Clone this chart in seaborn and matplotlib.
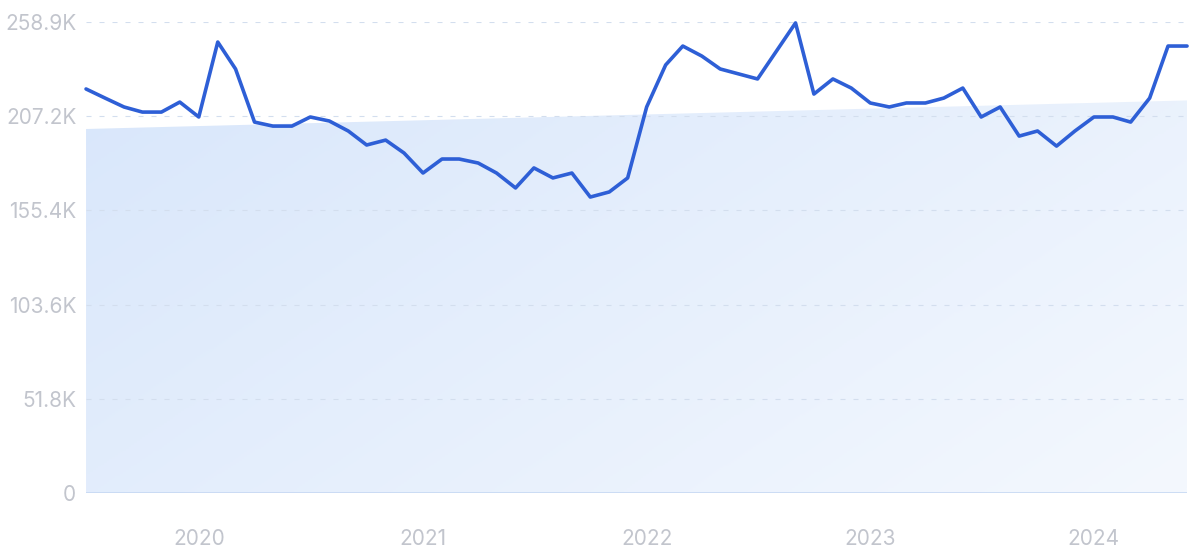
import matplotlib
matplotlib.use("Agg")
import matplotlib.pyplot as plt
import matplotlib.dates as mdates
from matplotlib.colors import LinearSegmentedColormap
import seaborn as sns
import pandas as pd
import numpy as np

# données (en milliers)
months = pd.date_range("2019-07-01", periods=60, freq="MS")
visits_k = [222.1, 217.1, 212.2, 209.4, 209.4, 214.9, 206.7, 247.9, 233.1, 203.9,
            201.7, 201.7, 206.7, 204.5, 199.0, 191.3, 194.0, 186.9, 175.9, 183.6,
            183.6, 181.4, 175.9, 167.7, 178.7, 173.2, 175.9, 162.7, 165.5, 173.2,
            212.2, 235.3, 245.7, 240.2, 233.1, 230.3, 227.6, 243.0, 258.4, 219.3,
            227.6, 222.6, 214.4, 212.2, 214.4, 214.4, 217.1, 222.6, 206.7, 212.2,
            196.2, 199.0, 190.7, 199.0, 206.7, 206.7, 203.9, 217.1, 245.7, 245.7]
trend_k = [200.1, 215.8]
y_ticks = [0, 51.8, 103.6, 155.4, 207.2, 258.9]
y_labels = ["0", "51.8K", "103.6K", "155.4K", "207.2K", "258.9K"]
x_years = [2020, 2021, 2022, 2023, 2024]

sns.set_theme(style="white")
plt.rcParams["font.family"] = ["Inter", "DejaVu Sans"]

fig = plt.figure(figsize=(12, 5.59), dpi=100)
ax = fig.add_axes([0.0717, 0.118, 0.9175, 0.8426])

df = pd.DataFrame({"month": months, "visits": visits_k})

# courbe principale
sns.lineplot(data=df, x="month", y="visits", color="#2e5fd6", lw=2.6,
             ax=ax, clip_on=False, zorder=5, solid_joinstyle="round")

# zone de tendance avec dégradé
ends = [months[0], months[-1]]
poly = ax.fill_between(ends, trend_k, 0, color="none", lw=0)
tx = mdates.date2num(ends)
cmap = LinearSegmentedColormap.from_list("fond", ["#d9e7fb", "#f4f8fe"])
h, w = 200, 400
yy, xx = np.mgrid[0:h, 0:w]
grad = (xx / w) * 0.65 + (yy / h) * 0.35
img = ax.imshow(grad, extent=[tx[0], tx[1], 0, max(trend_k)], aspect="auto",
                cmap=cmap, origin="upper", zorder=0, interpolation="bilinear")
img.set_clip_path(poly.get_paths()[0], transform=ax.transData)

# grille
for t in y_ticks[1:]:
    ax.axhline(t, color="#d3deee", ls=(0, (4.5, 7.2)), lw=0.8, zorder=1)
ax.axhline(0, color="#c6d8f3", lw=1.2, zorder=2)

ax.set_xlim(months[0], months[-1])
ax.set_ylim(0, 258.9)
ax.set_yticks(y_ticks)
ax.set_yticklabels(y_labels)
ax.set_xticks([pd.Timestamp(f"{y}-01-01") for y in x_years])
ax.set_xticklabels([str(y) for y in x_years])
ax.set_xlabel("")
ax.set_ylabel("")
ax.tick_params(axis="both", length=0, labelsize=15, labelcolor="#c2c5cd")
ax.tick_params(axis="y", pad=7)
ax.tick_params(axis="x", pad=26)
for s in ax.spines.values():
    s.set_visible(False)
ax.grid(False)

fig.savefig("out.png", dpi=100, facecolor="white")
